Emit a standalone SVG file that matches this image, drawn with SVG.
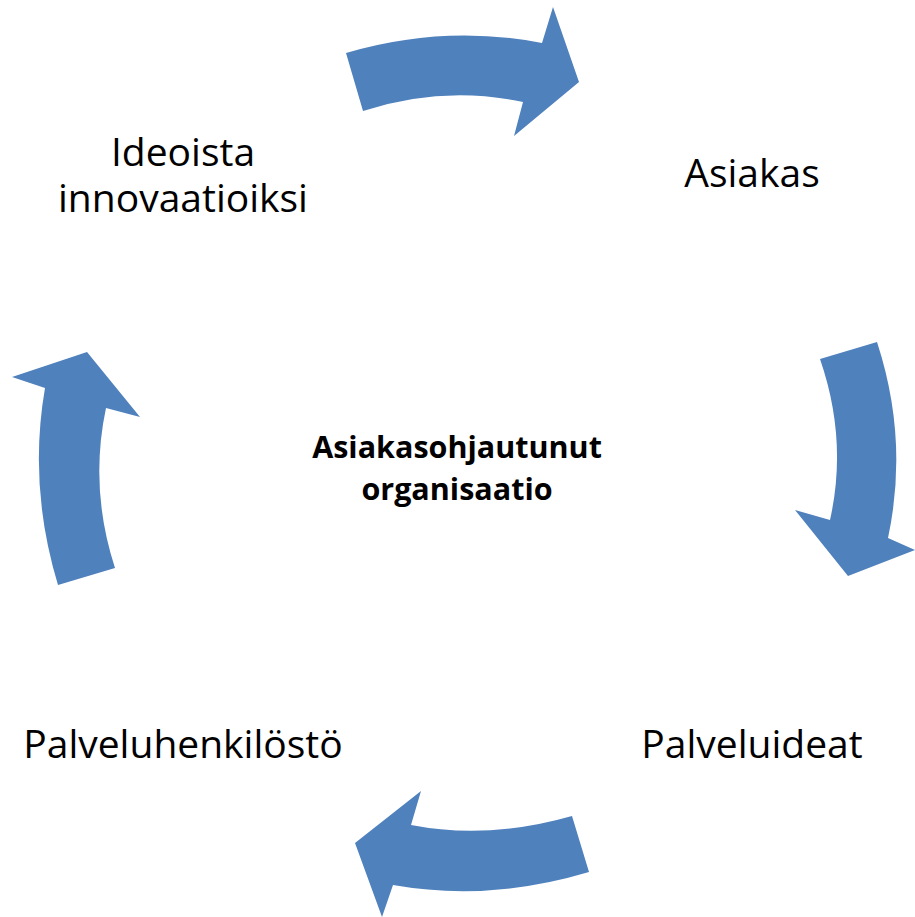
<svg xmlns="http://www.w3.org/2000/svg" width="915" height="917" viewBox="0 0 915 917">
<style>
.arrow{fill:#4F81BD;}
.lbl{font-family:"Open Sans","Liberation Sans",sans-serif;font-size:39px;fill:#000;text-anchor:middle;}
.ctr{font-family:"Open Sans","Liberation Sans",sans-serif;font-size:30.5px;font-weight:bold;fill:#000;text-anchor:middle;}
</style>
<rect width="915" height="917" fill="#fff"/>
<g id="connectors">
<path class="arrow" d="M346,53 Q444,24 542,43 L553,7 L579,82 L514,136 L523,102 Q443,85 363,111 Z"/>
<path class="arrow" d="M820,359 L877,342 Q909,440 888,538 L915,550 L848,576 L795,510 L830,520 Q848,440 820,359 Z"/>
<path class="arrow" d="M572,816 L589,872 Q489,902 393,885 L382,917 L355,843 L421,791 L411,825 Q488,840 572,816 Z"/>
<path class="arrow" d="M58,585 L115,568 Q89,488 106,408 L140,417 L87,352 L12,377 L45,388 Q28,486 58,585 Z"/>
</g>
<g id="node-ideoista"><text class="lbl" x="183" y="166">Ideoista</text><text class="lbl" x="183" y="212">innovaatioiksi</text></g>
<g id="node-asiakas"><text class="lbl" x="752" y="187">Asiakas</text></g>
<g id="node-palveluideat"><text class="lbl" x="752" y="758">Palveluideat</text></g>
<g id="node-palveluhenkilosto"><text class="lbl" x="183" y="758">Palveluhenkilöstö</text></g>
<g id="node-center"><text class="ctr" x="457" y="458">Asiakasohjautunut</text><text class="ctr" x="457" y="500">organisaatio</text></g>
</svg>
